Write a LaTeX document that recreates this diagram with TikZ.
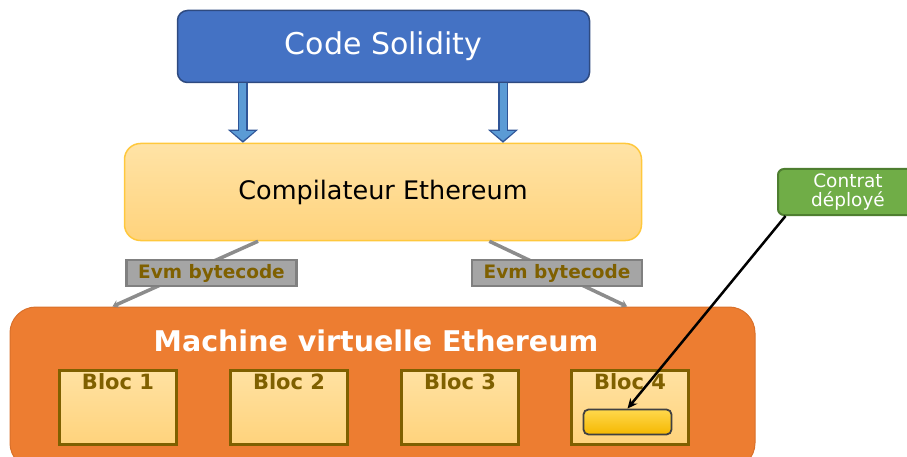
\documentclass[tikz,border=0pt]{standalone}
\usepackage{fontspec}
\setmainfont{DejaVu Sans}
\usetikzlibrary{arrows.meta,positioning,calc}

\definecolor{solblue}{HTML}{4472C4}
\definecolor{soledge}{HTML}{2E4A80}
\definecolor{arrfill}{HTML}{5B9BD5}
\definecolor{arredge}{HTML}{2F5597}
\definecolor{compedge}{HTML}{FFC83D}
\definecolor{comptop}{HTML}{FFE3A6}
\definecolor{compbot}{HTML}{FFD37C}
\definecolor{evmfill}{HTML}{A5A5A5}
\definecolor{evmedge}{HTML}{808080}
\definecolor{olive}{HTML}{7F6000}
\definecolor{vmfill}{HTML}{ED7D31}
\definecolor{vmedge}{HTML}{D9702A}
\definecolor{goldtop}{HTML}{FFD84D}
\definecolor{goldbot}{HTML}{F5B800}
\definecolor{ctfill}{HTML}{70AD47}
\definecolor{ctedge}{HTML}{4E7E30}
\definecolor{linegray}{HTML}{8C8C8C}

\begin{document}
\begin{tikzpicture}[x=1pt, y=-1pt, >=Stealth,
    box/.style={rounded corners=#1, inner sep=0pt, align=center},
    box/.default=10pt,
    bigarrow/.style={draw=arredge, line width=10pt,
        -{Triangle[width=30pt,length=13pt,line width=0pt]},
        postaction={draw=arrfill, line width=7pt,
            -{Triangle[width=23pt,length=9.5pt,line width=0pt]}, shorten >=2pt}},
    evm/.style={draw=evmedge, line width=2.5pt, fill=evmfill, inner sep=0pt,
        minimum width=170pt, minimum height=26pt, text=olive,
        font=\fontsize{18.5}{20}\selectfont\bfseries},
    bloc/.style={draw=olive, line width=3pt, top color=comptop!90!compbot,
        bottom color=compbot, minimum width=117pt, minimum height=74pt, inner sep=0pt},
    bloctext/.style={text=olive, font=\fontsize{21}{23}\selectfont\bfseries},
    feed/.style={draw=linegray, line width=3.5pt, -{Stealth[length=6pt,width=8pt]}}
  ]
  \useasboundingbox (0,0) rectangle (907,457);
  \clip (0,0) rectangle (907,457);

  % boxes
  \node[box, draw=soledge, line width=1.5pt, fill=solblue, text=white,
        minimum width=412pt, minimum height=72pt,
        font=\fontsize{30}{34}\selectfont] (sol) at (383.5,46.5) {Code Solidity};
  \node[box=16pt, draw=compedge, line width=1.5pt, top color=comptop, bottom color=compbot,
        minimum width=517pt, minimum height=97pt,
        font=\fontsize{25.5}{30}\selectfont] (comp) at (383,192) {Compilateur Ethereum};
  \node[box=26pt, draw=vmedge, line width=1pt, fill=vmfill,
        minimum width=745pt, minimum height=162pt] (vm) at (382.5,388) {};
  \node[text=white, font=\fontsize{28.5}{32}\selectfont\bfseries] (vmt) at (376,341)
        {Machine virtuelle Ethereum};

  \node[bloc] (b1) at (118,407.5) {};
  \node[bloc, right=51pt of b1] (b2) {};
  \node[bloc, right=51pt of b2] (b3) {};
  \node[bloc, right=50pt of b3] (b4) {};
  \node[bloctext, below=1pt of b1.north] (t1) {Bloc 1};
  \node[bloctext, below=1pt of b2.north] (t2) {Bloc 2};
  \node[bloctext, below=1pt of b3.north] (t3) {Bloc 3};
  \node[bloctext, below=1pt of b4.north] (t4) {Bloc 4};
  \node[box=5pt, draw=black!75, line width=1.8pt, top color=goldtop, bottom color=goldbot,
        minimum width=88pt, minimum height=25pt] (dep) at (627.5,422) {};

  \node[box=6pt, draw=ctedge, line width=2pt, fill=ctfill, text=white,
        minimum width=140pt, minimum height=46pt,
        font=\fontsize{18.5}{19.5}\selectfont] (ct) at (848,192) {Contrat\\déployé};

  % solidity -> compiler
  \coordinate (s1) at ($(sol.south west)!0.16!(sol.south east)$);
  \coordinate (s2) at ($(sol.south west)!0.789!(sol.south east)$);
  \draw[bigarrow] (s1) -- (s1 |- comp.north);
  \draw[bigarrow] (s2) -- (s2 |- comp.north);

  % compiler -> vm, bytecode
  \draw[feed] ($(comp.south west)!0.259!(comp.south east)$)
           -- ($(vm.north west)!0.138!(vm.north east)$);
  \draw[feed] ($(comp.south west)!0.705!(comp.south east)$)
           -- ($(vm.north west)!0.828!(vm.north east)$);
  \node[evm] (e1) at (211.5,273) {Evm bytecode};
  \node[evm] (e2) at (557,273) {Evm bytecode};

  % deployed contract
  \draw[line width=2.5pt, -{Stealth[length=10pt,width=9pt,fill=arrfill]}]
       ($(ct.south west)!0.06!(ct.south east)$) -- (dep.north);
\end{tikzpicture}
\end{document}
